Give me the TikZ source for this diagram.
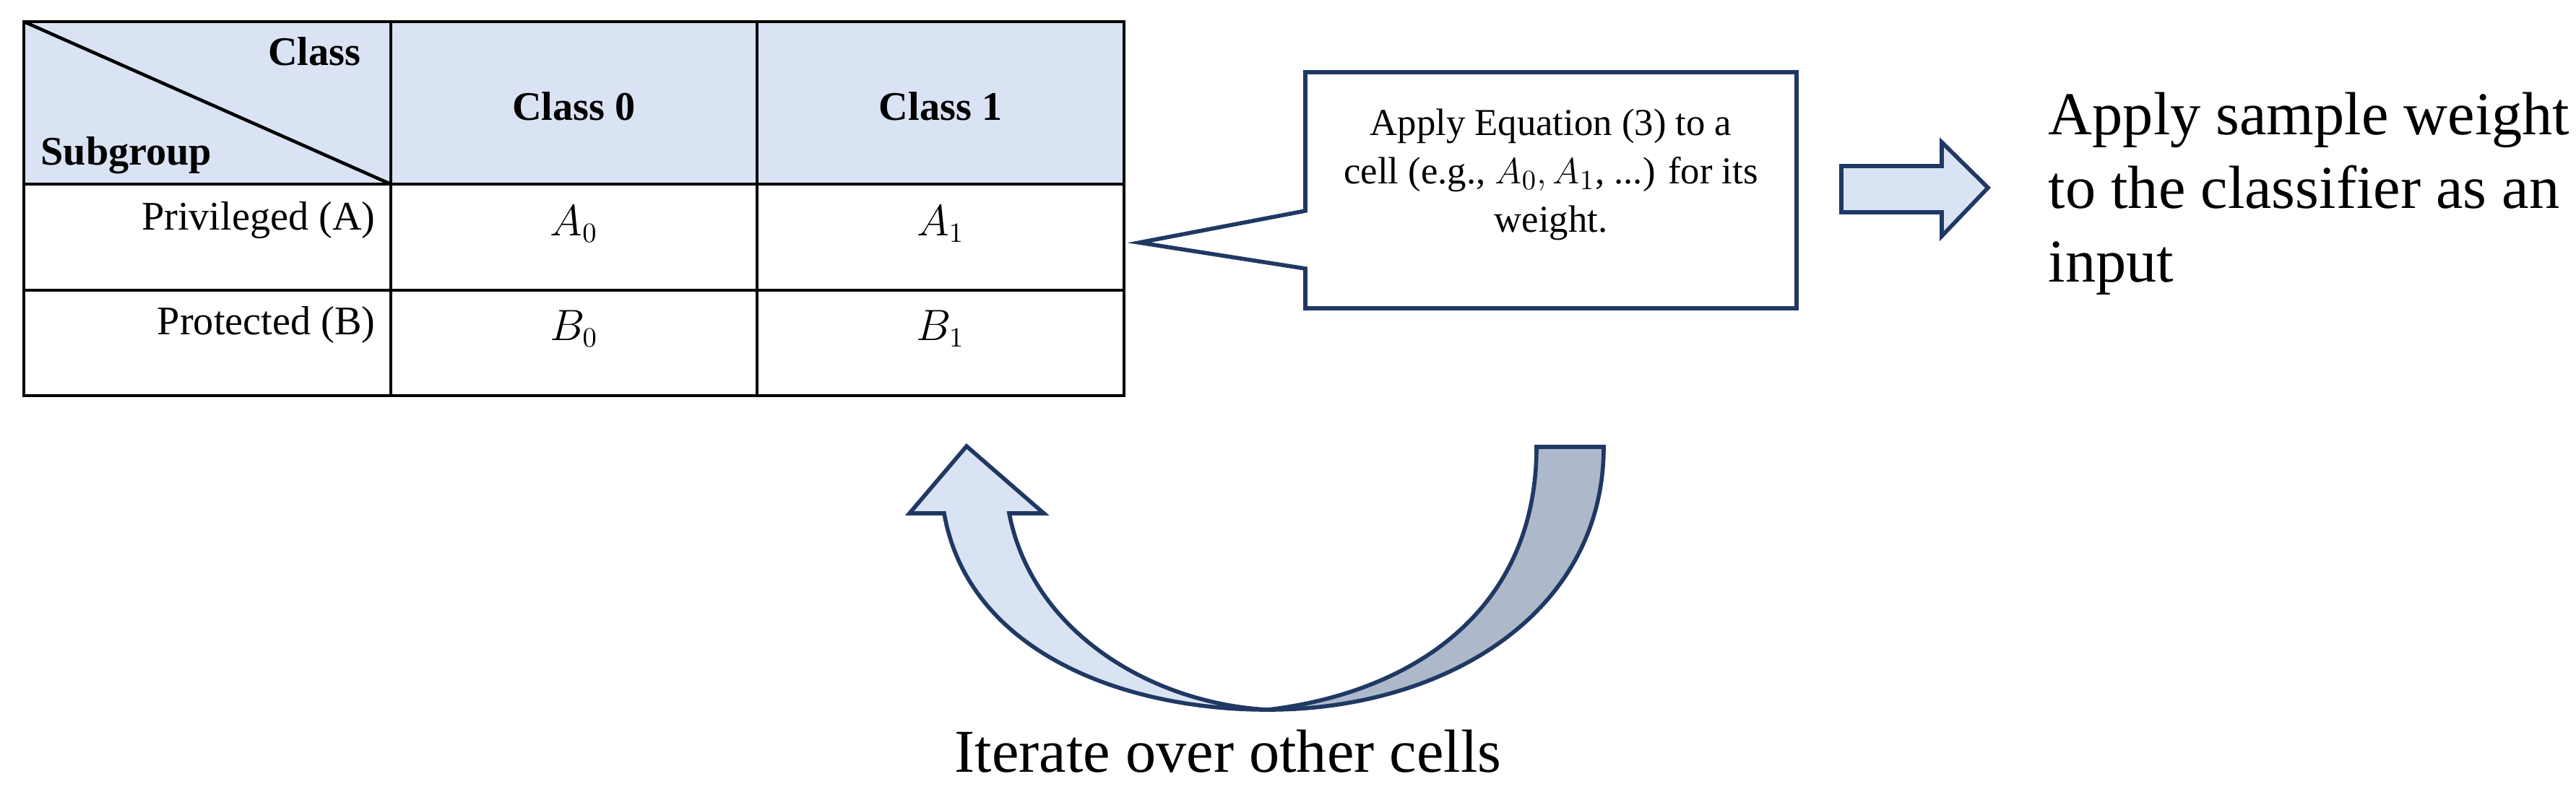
\documentclass[tikz,border=0pt]{standalone}
\usepackage{fontspec}
\setmainfont{Liberation Serif}
\usepackage{amsmath}
\usetikzlibrary{positioning}
\definecolor{lightblue}{HTML}{DAE3F3}
\definecolor{bandgray}{HTML}{ADB9CA}
\definecolor{navy}{HTML}{203864}
\tikzset{
  cell/.style={inner sep=0pt},
  big/.style={inner sep=0pt,font=\fontsize{24}{29}\selectfont},
  shape line/.style={draw=navy,line width=1.6pt,line join=miter},
}

\begin{document}
\begin{tikzpicture}[x=1cm,y=-1cm,font=\fontsize{16}{19}\selectfont]
  \useasboundingbox (0,0) rectangle (35.66,10.96);
  % table
  \fill [lightblue] (0.33,0.30) rectangle (15.56,2.55);
  \draw [line width=1.3pt] (0.33,0.30) rectangle (15.56,5.48);
  \draw [line width=1.3pt] (0.33,2.55) -- (15.56,2.55);
  \draw [line width=1.3pt] (0.33,4.02) -- (15.56,4.02);
  \draw [line width=1.1pt] (5.41,0.30) -- (5.41,5.48);
  \draw [line width=1.1pt] (10.48,0.30) -- (10.48,5.48);
  \draw [line width=1.3pt] (0.33,0.30) -- (5.41,2.55);
  % nodes
  \node [cell,anchor=base east,font=\fontsize{16}{19}\bfseries] (class) at (5.00,0.90) {Class};
  \node [cell,anchor=base west,font=\fontsize{16}{19}\bfseries] (subgroup) at (0.56,2.28) {Subgroup};
  \node [cell,font=\fontsize{16}{19}\bfseries] (c0) at (7.945,1.47) {Class 0};
  \node [cell,font=\fontsize{16}{19}\bfseries] (c1) at (13.02,1.47) {Class 1};
  \node [cell,anchor=east] (rowa) at (5.20,3.05) {Privileged (A)};
  \node [cell,anchor=east] (rowb) at (5.20,4.50) {Protected (B)};
  \node [cell] (a0) at (7.945,3.10) {$A_0$};
  \node [cell] (a1) at (13.02,3.10) {$A_1$};
  \node [cell] (b0) at (7.945,4.55) {$B_0$};
  \node [cell] (b1) at (13.02,4.55) {$B_1$};
  %% callout
  \coordinate (tip) at (15.77,3.36);
  \draw [shape line,fill=white] (18.07,1.00) -- (24.87,1.00) -- (24.87,4.27) -- (18.07,4.27)
    -- (18.07,3.72) -- (tip) -- (18.07,2.92) -- cycle;
  \node [cell,align=center,font=\fontsize{15}{19}\selectfont] (callout) at (21.47,2.42)
    {Apply Equation (3) to a\\cell (e.g., $A_0,A_1$, ...) for its\\weight.};
  %% right arrow
  \draw [shape line,fill=lightblue] (25.49,2.30) -- (26.88,2.30) -- (26.88,1.97) -- (27.52,2.60)
    -- (26.88,3.27) -- (26.88,2.94) -- (25.49,2.94) -- cycle;
  \node [big,anchor=base west,align=left] (output) at (28.35,1.86) {Apply sample weight};
  \node [big,anchor=base west] (output2) at (28.35,2.88) {to the classifier as an};
  \node [big,anchor=base west] (output3) at (28.35,3.90) {input};
  %% loop arrow
  \coordinate (bottom) at (17.55,9.83);
  \draw [shape line,fill=bandgray] (bottom) .. controls (20.00,9.83) and (22.20,8.50) .. (22.20,6.19)
    -- (21.27,6.19) .. controls (21.27,8.50) and (19.50,9.60) .. (bottom);
  \draw [shape line,fill=lightblue] (bottom) .. controls (16.00,9.75) and (14.30,8.80) .. (13.97,7.11)
    -- (14.45,7.11) -- (13.38,6.18) -- (12.59,7.11) -- (13.07,7.11)
    .. controls (13.40,9.00) and (15.50,9.83) .. (bottom);
  \node [big,anchor=base] (loop) at (17.00,10.69) {Iterate over other cells};
\end{tikzpicture}
\end{document}
